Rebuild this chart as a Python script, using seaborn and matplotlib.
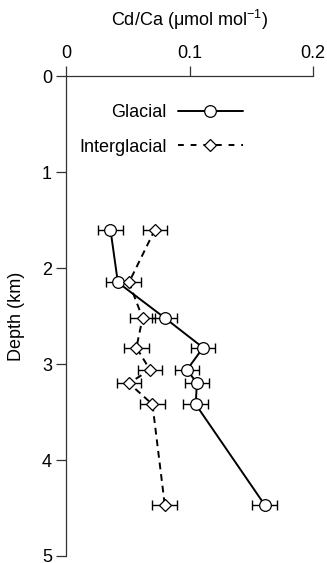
import numpy as np
import pandas as pd
import matplotlib
matplotlib.use("Agg")
import matplotlib.pyplot as plt
import seaborn as sns

# ---------------- DATA ----------------
depth_km = [1.60, 2.15, 2.52, 2.83, 3.06, 3.20, 3.42, 4.47]
glacial_cdca = [0.036, 0.042, 0.080, 0.111, 0.098, 0.106, 0.105, 0.161]
interglacial_cdca = [0.072, 0.051, 0.062, 0.057, 0.068, 0.051, 0.070, 0.080]
glacial_err = [0.010] * 8
interglacial_err = [0.010] * 8
x_ticks = [0, 0.1, 0.2]
x_ticklabels = ["0", "0.1", "0.2"]
y_ticks = [0, 1, 2, 3, 4, 5]
# --------------------------------------

df = pd.DataFrame({
    "cdca": glacial_cdca + interglacial_cdca,
    "depth": depth_km + depth_km,
    "err": glacial_err + interglacial_err,
    "period": ["Glacial"] * len(depth_km) + ["Interglacial"] * len(depth_km),
})

sns.set_style("ticks")
plt.rcParams["font.family"] = ["Liberation Sans", "DejaVu Sans"]
plt.rcParams["mathtext.fontset"] = "custom"
plt.rcParams["mathtext.rm"] = "Liberation Sans"
plt.rcParams["mathtext.it"] = "Liberation Sans:italic"
for key in ["text.color", "axes.labelcolor", "xtick.labelcolor", "ytick.labelcolor"]:
    plt.rcParams[key] = "black"
FS = 13

fig = plt.figure(figsize=(3.27, 5.63), dpi=100)
ax = fig.add_axes([66 / 327, 1 - 556 / 563, (313 - 66) / 327, (556 - 76) / 563])

styles = {
    "Glacial": dict(marker="o", markersize=8.4, dashes=None),
    "Interglacial": dict(marker="D", markersize=6.0, dashes=(3.5, 2.5)),
}

handles = []
for name, sub in df.groupby("period", sort=False):
    st = styles[name]
    kw = dict(color="black", lw=1.4, marker=st["marker"], markersize=st["markersize"],
              markerfacecolor="white", markeredgecolor="black", markeredgewidth=0.9)
    sns.lineplot(data=sub, x="cdca", y="depth", orient="y", estimator=None,
                 errorbar=None, ax=ax, legend=False, zorder=3, **kw)
    line = ax.lines[-1]
    if st["dashes"] is not None:
        line.set_dashes(st["dashes"])
    line.set_label(name)
    handles.append(line)
    ax.errorbar(sub["cdca"], sub["depth"], xerr=sub["err"], fmt="none",
                ecolor="black", elinewidth=1.0, capsize=3.8, capthick=1.0, zorder=1)

ax.set_xlim(0, 0.2)
ax.set_ylim(5, 0)
ax.xaxis.tick_top()
ax.xaxis.set_label_position("top")
ax.set_xticks(x_ticks)
ax.set_xticklabels(x_ticklabels)
ax.set_yticks(y_ticks)
ax.set_xlabel("Cd/Ca (\u03bcmol mol$^{-1}$)", fontsize=FS, labelpad=14)
ax.set_ylabel("Depth (km)", fontsize=FS, labelpad=12)
ax.tick_params(axis="both", labelsize=FS, length=7, width=0.9, color="#333333", pad=3)

for side in ["right", "bottom"]:
    ax.spines[side].set_visible(False)
for side in ["left", "top"]:
    ax.spines[side].set_color("#333333")
    ax.spines[side].set_linewidth(0.9)

leg = ax.legend(handles=handles, labels=["Glacial", "Interglacial"], loc="center",
                bbox_to_anchor=(0.385, 0.8875), frameon=False, markerfirst=False,
                handlelength=3.6, handletextpad=0.6, labelspacing=0.95, fontsize=FS)
leg.get_lines()[1].set_dashes((3.0, 3.5))

fig.savefig("out.png", dpi=100)
